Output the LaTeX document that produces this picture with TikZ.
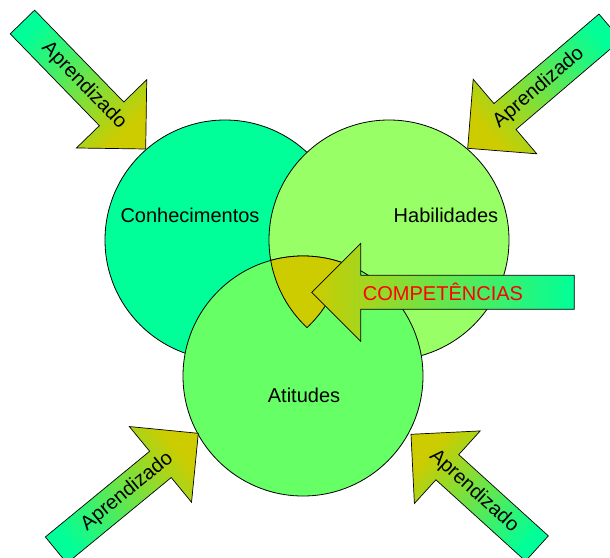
\documentclass[tikz,border=0pt]{standalone}
\usepackage{fontspec}
\setmainfont{Liberation Sans}
\definecolor{conhfill}{HTML}{00FF99}
\definecolor{habfill}{HTML}{99FF66}
\definecolor{atifill}{HTML}{66FF66}
\definecolor{corefill}{HTML}{CCCC00}
\definecolor{tipcol}{HTML}{CCCC00}
\definecolor{tailcol}{HTML}{00FF99}

% Block arrow: tip x, tip y, direction, length, shading angle, extra label rotation, node name, label
\newcommand\lernpfeil[8]{%
  \begin{scope}[shift={(#1,#2)}, rotate=#3]
    \path[blockarrow, shading angle=#5]
      (0,0) -- (-49,49) -- (-49,17) -- (-#4,17) -- (-#4,-17)
      -- (-49,-17) -- (-49,-49) -- cycle;
    \node[lbl, transform shape, rotate=#6] (#7) at ({-#4/2},0) {#8};
  \end{scope}}

\begin{document}
\begin{tikzpicture}[x=1pt, y=-1pt,
  circ/.style={draw=black, line width=0.8pt},
  blockarrow/.style={draw=black, line width=0.7pt, line join=miter,
    top color=tipcol, bottom color=tailcol},
  lbl/.style={font=\fontsize{20}{24}\selectfont, inner sep=0pt},
]
\useasboundingbox (0,0) rectangle (610,557);
\clip (0,0) rectangle (610,557);

% the three sets
\filldraw[circ, fill=conhfill] (225,240) circle[radius=120pt];
\filldraw[circ, fill=habfill] (389,240) circle[radius=120pt];
\filldraw[circ, fill=atifill] (303,376) circle[radius=120pt];

% common core of all three
\begin{scope}
  \clip (225,240) circle[radius=120pt];
  \clip (389,240) circle[radius=120pt];
  \filldraw[circ, fill=corefill] (303,376) circle[radius=120pt];
\end{scope}
\begin{scope}
  \clip (303,376) circle[radius=120pt];
  \clip (389,240) circle[radius=120pt];
  \draw[circ] (225,240) circle[radius=120pt];
\end{scope}
\begin{scope}
  \clip (303,376) circle[radius=120pt];
  \clip (225,240) circle[radius=120pt];
  \draw[circ] (389,240) circle[radius=120pt];
\end{scope}

\node[lbl] (conh) at (190,215) {Conhecimentos};
\node[lbl] (hab) at (446,215) {Habilidades};
\node[lbl] (ati) at (304,395) {Atitudes};

% learning arrows
\lernpfeil{145.7}{149}{-45.85}{177}{-135.85}{0}{aprTL}{Aprendizado}
\lernpfeil{467.7}{148.3}{220.45}{187}{130.45}{180}{aprTR}{Aprendizado}
\lernpfeil{198.3}{433.3}{39.4}{184}{-50.6}{0}{aprBL}{Aprendizado}
\lernpfeil{411}{434.3}{137.8}{170}{47.8}{180}{aprBR}{Aprendizado}

% competences arrow
\lernpfeil{311.7}{292.3}{180}{262.6}{90}{180}{comp}{\textcolor{red}{COMPETÊNCIAS}}
\end{tikzpicture}
\end{document}
